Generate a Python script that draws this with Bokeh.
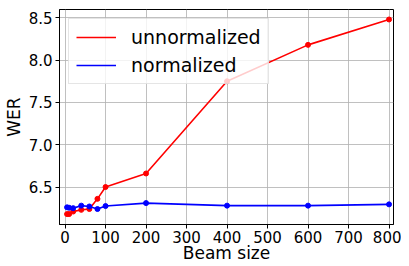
from bokeh.plotting import figure
from bokeh.models import FixedTicker, Legend, LegendItem, PrintfTickFormatter
from bokeh.embed import file_html
from bokeh.resources import INLINE

beam_sizes = [5, 10, 20, 40, 60, 80, 100, 200, 400, 600, 800]
wer_unnormalized = [6.18, 6.18, 6.21, 6.23, 6.24, 6.36, 6.50, 6.66, 7.75, 8.18, 8.48]
wer_normalized = [6.26, 6.255, 6.25, 6.28, 6.27, 6.24, 6.275, 6.31, 6.28, 6.28, 6.295]
x_ticks = [0, 100, 200, 300, 400, 500, 600, 700, 800]
y_ticks = [6.5, 7.0, 7.5, 8.0, 8.5]

FONT = "DejaVu Sans"

p = figure(width=401, height=265, output_backend="svg", toolbar_location=None,
           x_range=(-13.7, 811), y_range=(6.057, 8.598),
           min_border_left=54, min_border_right=8, min_border_top=9, min_border_bottom=38)

p.outline_line_color = "black"
p.outline_line_width = 1
p.background_fill_color = "white"
p.border_fill_color = "white"

for ax in (p.xaxis, p.yaxis):
    ax.axis_line_color = "black"
    ax.major_tick_out = 4
    ax.major_tick_in = 0
    ax.minor_tick_line_color = None
    ax.major_label_text_font = FONT
    ax.major_label_text_font_size = "15px"
    ax.major_label_text_color = "black"
    ax.axis_label_text_font = FONT
    ax.axis_label_text_font_size = "17px"
    ax.axis_label_text_font_style = "normal"
    ax.axis_label_text_color = "black"
    ax.major_label_standoff = 3

p.xaxis.ticker = FixedTicker(ticks=x_ticks)
p.yaxis.ticker = FixedTicker(ticks=y_ticks)
p.yaxis.formatter = PrintfTickFormatter(format="%.1f")
p.xaxis.axis_label = "Beam size"
p.yaxis.axis_label = "WER"
p.xaxis.axis_label_standoff = -3
p.xaxis.major_label_standoff = 2
p.yaxis.axis_label_standoff = 2

p.grid.grid_line_color = "#b0b0b0"
p.grid.grid_line_width = 1
p.grid.grid_line_alpha = 0.8

r1 = p.line(beam_sizes, wer_unnormalized, color="#ff0000", line_width=1.6)
p.scatter(beam_sizes, wer_unnormalized, color="#ff0000", size=5)
r2 = p.line(beam_sizes, wer_normalized, color="#0000ff", line_width=1.6)
p.scatter(beam_sizes, wer_normalized, color="#0000ff", size=5)

legend = Legend(items=[LegendItem(label="unnormalized", renderers=[r1]),
                       LegendItem(label="normalized", renderers=[r2])],
                location="top_left")
legend.margin = 9
legend.padding = 7
legend.spacing = 6
legend.label_height = 22
legend.glyph_height = 22
legend.glyph_width = 40
legend.label_standoff = 15
legend.label_text_font = FONT
legend.label_text_font_size = "19px"
legend.label_text_color = "black"
legend.border_line_color = "#cccccc"
legend.border_line_width = 1
legend.background_fill_alpha = 0.8
p.add_layout(legend)

open("out.html", "w").write(file_html(p, INLINE))
